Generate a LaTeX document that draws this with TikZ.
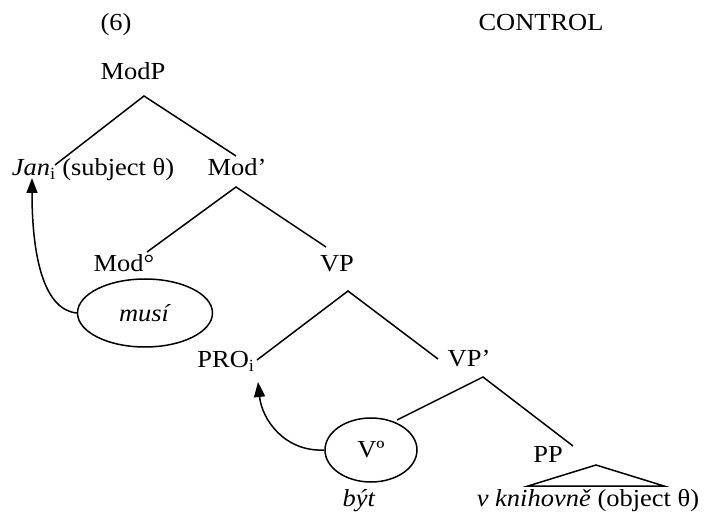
\documentclass[tikz,border=0pt]{standalone}
\usepackage{fontspec}
\setmainfont[FakeStretch=1.08]{Liberation Serif}
\usetikzlibrary{shapes.geometric,arrows.meta}
\begin{document}
\begin{tikzpicture}[x=1pt,y=-1pt,
  lbl/.style={anchor=base,inner sep=0pt,font=\fontsize{24.5}{30}\selectfont},
  br/.style={line width=1.5pt},
  oval/.style={draw,ellipse,line width=1.5pt,inner sep=0pt,font=\fontsize{24.5}{30}\selectfont},
  mv/.style={line width=1.5pt,-{Triangle[width=11pt,length=15pt]}}]
\useasboundingbox (0,0) rectangle (707,518);
% labels
\node[lbl] (six) at (116,31) {(6)};
\node[lbl] (ctl) at (541,31) {CONTROL};
\node[lbl] (modp) at (133,80) {ModP};
\node[lbl] (jan) at (93,176) {\textit{Jan}\textsubscript{i} (subject θ)};
\node[lbl] (modbar) at (237,176) {Mod’};
\node[lbl] (modo) at (124,272) {Mod°};
\node[lbl] (vp) at (337,272) {VP};
\node[lbl] (pro) at (226,368) {PRO\textsubscript{i}};
\node[lbl] (vpbar) at (469,367) {VP’};
\node[lbl] (pp) at (548,463) {PP};
\node[lbl] (byt) at (359,506) {\textit{být}};
\node[lbl] (obj) at (588,506) {\textit{v knihovně} (object θ)};
% ovals
\node[oval,minimum width=135pt,minimum height=68pt] (musi) at (145,313) {\textit{musí}};
\node[oval,minimum width=92pt,minimum height=64pt] (vo) at (371,450) {Vº};
% branch points
\coordinate (a1) at (144,96);
\coordinate (a1l) at (55,165);
\coordinate (a1r) at (236,156);
\coordinate (a2) at (236,187);
\coordinate (a2l) at (147,252);
\coordinate (a2r) at (326,247);
\coordinate (a3) at (348,291);
\coordinate (a3l) at (257,360);
\coordinate (a3r) at (438,359);
\coordinate (a4) at (483,377);
\coordinate (a4l) at (397,420);
\coordinate (a4r) at (573,446);
\coordinate (t1) at (596,465);
\coordinate (t2) at (528,486);
\coordinate (t3) at (664,486);
\coordinate (janarr) at (32,178);
\coordinate (proarr) at (258,382);
\draw[br] (a1l) -- (a1) -- (a1r);
\draw[br] (a2l) -- (a2) -- (a2r);
\draw[br] (a3l) -- (a3) -- (a3r);
\draw[br] (a4l) -- (a4) -- (a4r);
\draw[br] (t1) -- (t2) -- (t3) -- cycle;
% movement arrows
\draw[mv] (musi.west) .. controls (45,310) and (32,260) .. (janarr);
\draw[mv] (vo.west) .. controls (285,452) and (262,420) .. (proarr);
\end{tikzpicture}
\end{document}
